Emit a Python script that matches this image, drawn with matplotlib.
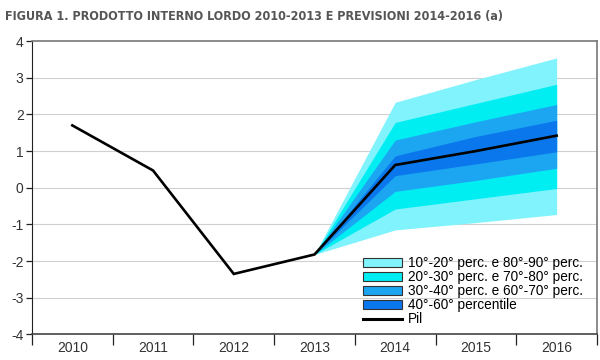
import matplotlib
matplotlib.use("Agg")
import matplotlib.pyplot as plt
from matplotlib.patches import Patch
from matplotlib.lines import Line2D
import numpy as np

# data
years = ["2010", "2011", "2012", "2013", "2014", "2015", "2016"]
pil = [1.7, 0.47, -2.35, -1.82, 0.62, 1.0, 1.42]

# fan years (2013 = starting point, bands collapse there)
fan_years = ["2013", "2014", "2015", "2016"]
q10 = [-1.82, -1.15, -0.95, -0.73]
q20 = [-1.82, -0.58, -0.30, -0.02]
q30 = [-1.82, -0.10, 0.20, 0.53]
q40 = [-1.82, 0.33, 0.65, 0.98]
q60 = [-1.82, 0.87, 1.40, 1.84]
q70 = [-1.82, 1.30, 1.80, 2.27]
q80 = [-1.82, 1.78, 2.30, 2.82]
q90 = [-1.82, 2.33, 2.95, 3.54]

band_labels = ["10°-20° perc. e 80°-90° perc.",
               "20°-30° perc. e 70°-80° perc.",
               "30°-40° perc. e 60°-70° perc.",
               "40°-60° percentile"]
band_colors = ["#80F3FC", "#00EEF2", "#1CA6F2", "#0A78EC"]

title = "FIGURA 1. PRODOTTO INTERNO LORDO 2010-2013 E PREVISIONI 2014-2016 (a)"

plt.rcParams['font.family'] = ['Liberation Sans', 'DejaVu Sans']
plt.rcParams['axes.unicode_minus'] = False

fig = plt.figure(figsize=(6, 3.6), dpi=100)
ax = fig.add_axes([0.0533, 0.071, 0.9417, 0.815])

x = np.arange(len(years))
xf = np.array([years.index(y) for y in fan_years])

ax.fill_between(xf, q10, q90, color=band_colors[0], lw=0)
ax.fill_between(xf, q20, q80, color=band_colors[1], lw=0)
ax.fill_between(xf, q30, q70, color=band_colors[2], lw=0)
ax.fill_between(xf, q40, q60, color=band_colors[3], lw=0)
ax.plot(x, pil, color="black", lw=1.9, solid_joinstyle="miter", zorder=5)

ax.set_xlim(-0.5, len(years) - 0.5)
ax.set_ylim(-4, 4)
ax.set_yticks(range(-4, 5))
ax.set_xticks(x)
ax.set_xticklabels(years)
ax.set_xticks(np.arange(-0.5, len(years)), minor=True)
ax.tick_params(axis="x", which="major", length=0, pad=5, labelsize=10, labelcolor="#333333")
ax.tick_params(axis="x", which="minor", length=8, width=0.9, color="#222222", direction="out")
ax.tick_params(axis="y", length=4, width=0.9, color="#222222", pad=2, labelsize=10, labelcolor="#333333")

for v in range(-3, 4):
    ax.axhline(v, color="#d0d0d0", lw=0.8, zorder=0)

for s in ["top", "right"]:
    ax.spines[s].set_color("#777777")
    ax.spines[s].set_linewidth(1.2)
ax.spines["left"].set_color("#222222")
ax.spines["bottom"].set_color("#444444")
ax.spines["bottom"].set_linewidth(1.2)

handles = [Patch(facecolor=c, edgecolor="#333333", lw=0.8, label=l)
           for c, l in zip(band_colors, band_labels)]
handles.append(Line2D([], [], color="black", lw=2.2, label="Pil"))
ax.legend(handles=handles, loc="lower right", bbox_to_anchor=(0.99, 0.0),
          frameon=False, fontsize=9.8, handlelength=2.9, handleheight=0.7,
          handletextpad=0.45, labelspacing=0.0, borderaxespad=0.2)

fig.text(0.008, 0.945, title, fontsize=9, fontweight="bold", color="#555555",
         family=['DejaVu Sans', 'Liberation Sans'], fontstretch="condensed")

fig.savefig("out.png", dpi=100)
